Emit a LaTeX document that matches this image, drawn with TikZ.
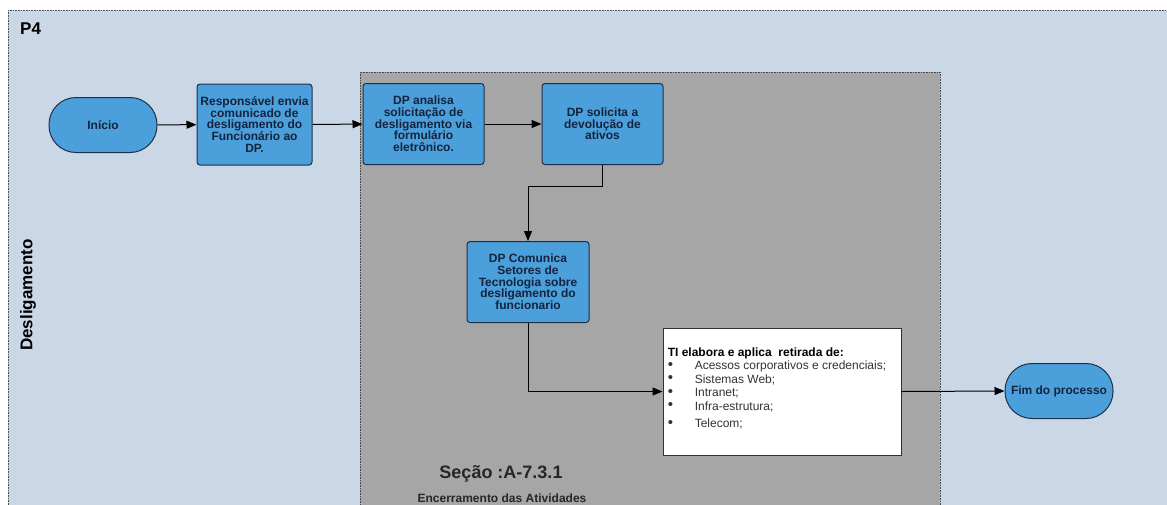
\documentclass[tikz,border=0pt]{standalone}
\usepackage{fontspec}
\setmainfont{Liberation Sans}
\usetikzlibrary{arrows.meta}
\definecolor{lanebg}{HTML}{C9D7E7}
\definecolor{secgray}{HTML}{A6A6A6}
\definecolor{boxblue}{HTML}{4B9FDA}
\definecolor{boxline}{HTML}{1E3048}
\definecolor{boxtext}{HTML}{14243E}
\newcommand{\bul}{\makebox[27pt][l]{\raisebox{0.5pt}{\scalebox{1.25}{\textbullet}}}}
\tikzset{
  proc/.style={draw=boxline, fill=boxblue, rounded corners=3pt, line width=1pt,
    minimum width=#1, minimum height=81pt, align=center, inner sep=2pt,
    text=boxtext, font=\bfseries\fontsize{12}{11.7}\selectfont},
  term/.style={draw=boxline, fill=boxblue, rounded corners=27pt, line width=1pt,
    minimum width=108pt, minimum height=55pt, align=center, inner sep=2pt,
    text=boxtext, font=\bfseries\fontsize{12}{12}\selectfont},
  flow/.style={line width=1pt, -{Triangle[length=10pt,width=8pt]}},
  frame/.style={densely dotted, draw=black!70, line width=0.6pt}
}
\begin{document}
\begin{tikzpicture}[x=1pt,y=-1pt]
\useasboundingbox (0,0) rectangle (1167,504);
\fill[white] (0,0) rectangle (1167,504);
% lane
\draw[frame, fill=lanebg] (8,10) rectangle (1180,520);
% section
\draw[frame, fill=secgray] (360,72) rectangle (940,520);
% labels
\node[anchor=west, font=\bfseries\fontsize{17}{17}\selectfont, inner sep=0] (p4) at (20,29) {P4};
\node[rotate=90, font=\bfseries\fontsize{17}{17}\selectfont, inner sep=0] (lane) at (28,295) {Desligamento};
\node[font=\bfseries\fontsize{18}{18}\selectfont, text=black!85, inner sep=0] (sec) at (501,474) {Seção :A-7.3.1};
\node[font=\bfseries\fontsize{12}{12}\selectfont, text=black!85, inner sep=0] (secname) at (502,498) {Encerramento das Atividades};
% nodes
\node[term] (ini) at (103,125) {Início};
\node[proc=115pt] (b1) at (254.5,124.5) {Responsável envia\\comunicado de\\desligamento do\\Funcionário ao\\DP.};
\node[proc=121pt] (b2) at (423.5,124) {DP analisa\\solicitação de\\desligamento via\\formulário\\eletrônico.};
\node[proc=121pt] (b3) at (602.5,124) {DP solicita a\\devolução de\\ativos};
\node[proc=122pt] (b4) at (528,282) {DP Comunica\\Setores de\\Tecnologia sobre\\desligamento do\\funcionario};
\node[draw=black!80, fill=white, line width=0.9pt, minimum width=238pt, minimum height=127pt, inner sep=0] (ti) at (782,391.5) {};
\node[anchor=north west, align=left, inner sep=0, font=\fontsize{12}{13.5}\selectfont, text=black!80] (titxt) at ([xshift=5pt,yshift=-20pt]ti.north west)
 {\textbf{\textcolor{black}{TI elabora e aplica\ \ retirada de:}}\\
  \bul Acessos corporativos e credenciais;\\
  \bul Sistemas Web;\\
  \bul Intranet;\\
  \bul Infra-estrutura;\\[4pt]
  \bul Telecom;};
\node[term] (fim) at (1059,391) {Fim do processo};
% connectors
\draw[flow] (ini) -- (b1);
\draw[flow] (b1) -- (b2);
\draw[flow] (b2) -- (b3);
\draw[flow] (b3.south) -- ++(0,21) -| (b4.north);
\draw[flow] (b4.south) |- (ti.west);
\draw[flow] (ti.east) -- (fim.west);
\end{tikzpicture}
\end{document}
